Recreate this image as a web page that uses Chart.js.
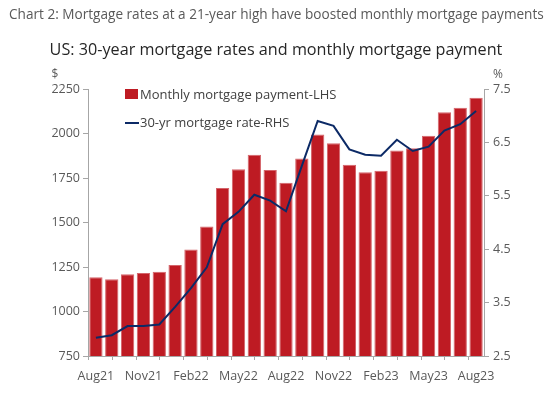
<!DOCTYPE html>
<html>
<head>
<meta charset="utf-8">
<script src="https://cdn.jsdelivr.net/npm/chart.js@4.4.0/dist/chart.umd.min.js"></script>
<style>
  html, body { margin: 0; padding: 0; background: #fff; }
  canvas { display: block; }
</style>
</head>
<body>
<canvas id="chart" width="552" height="394"></canvas>
<script>
// data
const months = ["Aug21","Sep21","Oct21","Nov21","Dec21","Jan22","Feb22","Mar22","Apr22",
  "May22","Jun22","Jul22","Aug22","Sep22","Oct22","Nov22","Dec22","Jan23","Feb23",
  "Mar23","Apr23","May23","Jun23","Jul23","Aug23"];
const payment = [1192,1181,1209,1216,1224,1261,1349,1478,1694,1799,1881,1795,1724,
  1860,1995,1945,1825,1782,1791,1905,1917,1988,2119,2145,2201];
const rate = [2.84,2.89,3.06,3.06,3.09,3.42,3.77,4.16,4.97,5.20,5.52,5.41,5.21,
  6.06,6.90,6.81,6.37,6.27,6.25,6.55,6.34,6.42,6.72,6.84,7.09];
const leftRange = [750, 2250, 250];
const rightRange = [2.5, 7.5, 1];

const header = "Chart 2: Mortgage rates at a 21-year high have boosted monthly mortgage payments";
const title = "US: 30-year mortgage rates and monthly mortgage payment";

const barColor = "#be1b23";
const lineColor = "#0c2a66";
const axisColor = "#a6a6a6";
const textColor = "#595959";
const font = "'Open Sans', 'Noto Sans', sans-serif";

// header, axis units, legend and the odd excel-style x tick marks
const extras = {
  id: "extras",
  afterDraw(chart) {
    const ctx = chart.ctx;
    const area = chart.chartArea;
    ctx.save();
    ctx.textBaseline = "middle";

    ctx.fillStyle = textColor;
    ctx.font = "13.6px " + font;
    ctx.textAlign = "left";
    ctx.fillText(header, 9, 15, 535);

    ctx.fillStyle = "#262626";
    ctx.font = "16.2px " + font;
    ctx.textAlign = "center";
    ctx.fillText(title, 276, 50);

    ctx.fillStyle = textColor;
    ctx.font = "12px " + font;
    ctx.fillText("$", 55, 75);
    ctx.fillText("%", 498, 75);

    // legend
    ctx.textAlign = "left";
    ctx.font = "13px " + font;
    ctx.fillStyle = barColor;
    ctx.fillRect(area.left + 37, 89, 13, 10);
    ctx.fillStyle = "#404040";
    ctx.fillText(chart.data.datasets[0].label, area.left + 52, 95);
    ctx.strokeStyle = lineColor;
    ctx.lineWidth = 2;
    ctx.beginPath();
    ctx.moveTo(area.left + 37, 123);
    ctx.lineTo(area.left + 51, 123);
    ctx.stroke();
    ctx.fillText(chart.data.datasets[1].label, area.left + 52, 123);

    // x ticks every month and a half
    const xs = chart.scales.x;
    const step = (xs.right - xs.left) / months.length * 1.5;
    ctx.strokeStyle = axisColor;
    ctx.lineWidth = 1;
    ctx.beginPath();
    for (let x = xs.left; x < xs.right - 5; x += step) {
      const px = Math.round(x) + 0.5;
      ctx.moveTo(px, area.bottom);
      ctx.lineTo(px, area.bottom + 4);
    }
    ctx.stroke();
    ctx.restore();
  }
};

const ctx = document.getElementById("chart").getContext("2d");
const chart = new Chart(ctx, {
  type: "bar",
  data: {
    labels: months,
    datasets: [
      {
        label: "Monthly mortgage payment-LHS",
        data: payment,
        backgroundColor: barColor,
        borderColor: "#d4646a",
        borderWidth: 1,
        barPercentage: 0.84,
        categoryPercentage: 1.0,
        yAxisID: "y",
        order: 1,
      },
      {
        type: "line",
        label: "30-yr mortgage rate-RHS",
        data: rate,
        borderColor: lineColor,
        borderWidth: 2,
        pointRadius: 0,
        tension: 0,
        yAxisID: "y1",
        order: 0,
      },
    ],
  },
  options: {
    responsive: false,
    animation: false,
    layout: { padding: { top: 89, left: 0, right: 0, bottom: 0 } },
    plugins: {
      legend: { display: false },
      tooltip: { enabled: false },
    },
    scales: {
      x: {
        offset: true,
        grid: { display: false, drawTicks: false },
        border: { color: axisColor },
        ticks: {
          autoSkip: false,
          maxRotation: 0,
          padding: 13,
          color: textColor,
          font: { family: font, size: 12.5 },
          callback: (v, i) => (i % 3 === 0 ? months[i] : ""),
        },
        afterFit: (s) => { s.height = 38; },
      },
      y: {
        position: "left",
        min: leftRange[0],
        max: leftRange[1],
        grid: { drawOnChartArea: false, tickLength: 5, color: axisColor },
        border: { color: axisColor },
        ticks: {
          stepSize: leftRange[2],
          padding: 3,
          color: textColor,
          font: { family: font, size: 12.5 },
          callback: (v) => String(v),
        },
        afterFit: (s) => { s.width = 88; },
      },
      y1: {
        position: "right",
        min: rightRange[0],
        max: rightRange[1],
        grid: { drawOnChartArea: false, tickLength: 5, color: axisColor },
        border: { color: axisColor },
        ticks: {
          stepSize: rightRange[2],
          padding: 4,
          color: textColor,
          font: { family: font, size: 12.5 },
          callback: (v) => v.toFixed(1),
        },
        afterFit: (s) => { s.width = 68; },
      },
    },
  },
  plugins: [extras],
});
</script>
</body>
</html>
